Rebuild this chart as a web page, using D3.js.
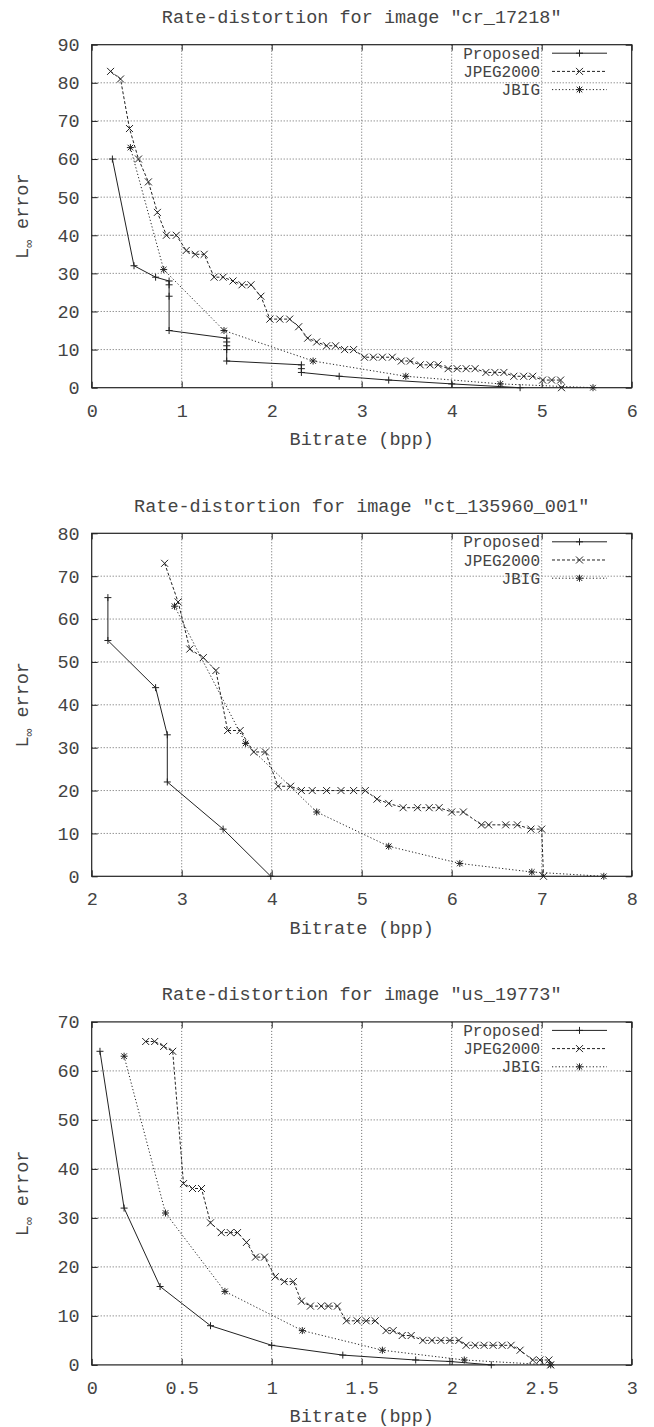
<!DOCTYPE html>
<html>
<head>
<meta charset="utf-8">
<script src="https://cdn.jsdelivr.net/npm/d3@7"></script>
<style>
  body { margin: 0; background: #fff; }
  text { font-family: "Liberation Mono", "DejaVu Sans Mono", monospace; fill: #444; }
</style>
</head>
<body>
<svg id="chart" width="654" height="1427"></svg>
<script>
// ---- data ----
const titles = [
  'Rate-distortion for image "cr_17218"',
  'Rate-distortion for image "ct_135960_001"',
  'Rate-distortion for image "us_19773"'
];
const seriesNames = ["Proposed", "JPEG2000", "JBIG"];

const xTicksCr = [0, 1, 2, 3, 4, 5, 6];
const yTicksCr = [0, 10, 20, 30, 40, 50, 60, 70, 80, 90];
const xTicksCt = [2, 3, 4, 5, 6, 7, 8];
const yTicksCt = [0, 10, 20, 30, 40, 50, 60, 70, 80];
const xTicksUs = [0, 0.5, 1, 1.5, 2, 2.5, 3];
const yTicksUs = [0, 10, 20, 30, 40, 50, 60, 70];

// [bitrate, error]
const crProposed = [[0.23,60],[0.47,32],[0.71,29],[0.86,28],[0.86,27],[0.86,24],[0.86,15],
  [1.5,13],[1.5,12],[1.5,11],[1.5,10],[1.5,7],[2.33,6],[2.33,5],[2.33,4],[2.75,3],[3.3,2],[4.0,1],[4.76,0]];
const crJpeg = [[0.21,83],[0.32,81],[0.42,68],[0.52,60],[0.63,54],[0.73,46],[0.83,40],[0.94,40],
  [1.05,36],[1.15,35],[1.25,35],[1.36,29],[1.46,29],[1.57,28],[1.67,27],[1.77,27],[1.88,24],
  [1.98,18],[2.09,18],[2.20,18],[2.30,16],[2.40,13],[2.50,12],[2.61,11],[2.71,11],[2.81,10],
  [2.91,10],[3.03,8],[3.13,8],[3.23,8],[3.34,8],[3.44,7],[3.54,7],[3.65,6],[3.76,6],[3.85,6],
  [3.96,5],[4.06,5],[4.16,5],[4.26,5],[4.38,4],[4.48,4],[4.58,4],[4.69,3],[4.80,3],[4.90,3],
  [5.01,2],[5.11,2],[5.21,2],[5.22,0]];
const crJbig = [[0.43,63],[0.80,31],[1.47,15],[2.46,7],[3.49,3],[4.54,1],[5.57,0]];

const ctProposed = [[2.18,65],[2.18,55],[2.71,44],[2.84,33],[2.84,22],[3.46,11],[3.99,0]];
const ctJpeg = [[2.81,73],[2.96,64],[3.09,53],[3.24,51],[3.38,48],[3.51,34],[3.65,34],[3.80,29],
  [3.93,29],[4.07,21],[4.21,21],[4.33,20],[4.45,20],[4.61,20],[4.77,20],[4.91,20],[5.04,20],
  [5.17,18],[5.30,17],[5.46,16],[5.62,16],[5.75,16],[5.86,16],[6.0,15],[6.13,15],[6.33,12],
  [6.41,12],[6.60,12],[6.73,12],[6.88,11],[7.0,11],[7.02,0]];
const ctJbig = [[2.92,63],[3.71,31],[4.5,15],[5.30,7],[6.09,3],[6.89,1],[7.69,0]];

const usProposed = [[0.046,64],[0.18,32],[0.38,16],[0.66,8],[1.0,4],[1.395,2],[1.80,1],[1.99,0.7],[2.22,0]];
const usJpeg = [[0.30,66],[0.35,66],[0.40,65],[0.45,64],[0.51,37],[0.56,36],[0.61,36],[0.66,29],
  [0.72,27],[0.77,27],[0.81,27],[0.86,25],[0.91,22],[0.96,22],[1.02,18],[1.07,17],[1.12,17],
  [1.165,13],[1.215,12],[1.275,12],[1.315,12],[1.365,12],[1.415,9],[1.475,9],[1.525,9],[1.575,9],
  [1.635,7],[1.675,7],[1.725,6],[1.775,6],[1.84,5],[1.89,5],[1.94,5],[1.99,5],[2.04,5],
  [2.08,4],[2.13,4],[2.18,4],[2.23,4],[2.28,4],[2.33,4],[2.38,3],[2.45,1],[2.49,1],[2.54,1],[2.55,0]];
const usJbig = [[0.18,63],[0.41,31],[0.74,15],[1.17,7],[1.615,3],[2.07,1],[2.55,0]];

const panels = [
  {title: titles[0], xTicks: xTicksCr, yTicks: yTicksCr, series: [crProposed, crJpeg, crJbig]},
  {title: titles[1], xTicks: xTicksCt, yTicks: yTicksCt, series: [ctProposed, ctJpeg, ctJbig]},
  {title: titles[2], xTicks: xTicksUs, yTicks: yTicksUs, series: [usProposed, usJpeg, usJbig]}
];

// ---- drawing ----
const svg = d3.select("#chart");
const W = 540, H = 343, left = 91.7, top0 = 44.7, step = 488.6;
const ink = "#222";
const fontSize = 18.5, keyFont = 16, keyStep = 18.2;
const styles = [
  {dash: null, marker: "plus"},
  {dash: "3,2", marker: "cross"},
  {dash: "1.2,2.2", marker: "star"}
];

function markerPath(kind, s) {
  let plus = `M${-s},0H${s}M0,${-s}V${s}`,
      cross = `M${-s},${-s}L${s},${s}M${-s},${s}L${s},${-s}`;
  if (kind === "plus") return plus;
  if (kind === "cross") return cross;
  let t = s * 0.8;
  return plus + `M${-t},${-t}L${t},${t}M${-t},${t}L${t},${-t}`;
}

panels.forEach(function(p, i) {
  var g = svg.append("g").attr("transform", `translate(${left},${top0 + i * step})`);

  var x = d3.scaleLinear()
      .domain(d3.extent(p.xTicks))
      .range([0, W]);
  var y = d3.scaleLinear()
      .domain(d3.extent(p.yTicks))
      .range([H, 0]);

  // grid
  g.append("g").selectAll("line")
      .data(p.xTicks.slice(1, -1))
      .enter().append("line")
      .attr("x1", x).attr("x2", x).attr("y1", 0).attr("y2", H)
      .attr("stroke", "#666").attr("stroke-dasharray", "1,2");
  g.append("g").selectAll("line")
      .data(p.yTicks.slice(1, -1))
      .enter().append("line")
      .attr("y1", y).attr("y2", y).attr("x1", 0).attr("x2", W)
      .attr("stroke", "#666").attr("stroke-dasharray", "1,2");

  // axes, ticks pointing inward on all four sides
  var fmt = function(d) { return String(d); };
  var bottom = g.append("g").attr("transform", `translate(0,${H})`)
      .call(d3.axisBottom(x).tickValues(p.xTicks).tickFormat(fmt).tickSizeInner(-6).tickSizeOuter(0).tickPadding(16));
  var leftAx = g.append("g")
      .call(d3.axisLeft(y).tickValues(p.yTicks).tickFormat(fmt).tickSizeInner(-6).tickSizeOuter(0).tickPadding(12));
  var topAx = g.append("g")
      .call(d3.axisTop(x).tickValues(p.xTicks).tickFormat("").tickSizeInner(-6).tickSizeOuter(0));
  var rightAx = g.append("g").attr("transform", `translate(${W},0)`)
      .call(d3.axisRight(y).tickValues(p.yTicks).tickFormat("").tickSizeInner(-6).tickSizeOuter(0));
  [bottom, leftAx, topAx, rightAx].forEach(function(a) {
    a.select(".domain").remove();
    a.selectAll("line").attr("stroke", ink);
    a.selectAll("text").attr("font-size", fontSize).attr("fill", "#444")
        .attr("font-family", '"Liberation Mono", monospace');
  });

  // border
  g.append("rect").attr("width", W).attr("height", H)
      .attr("fill", "none").attr("stroke", ink).attr("stroke-width", 1.2);

  // series
  var line = d3.line().x(function(d) { return x(d[0]); }).y(function(d) { return y(d[1]); });
  p.series.forEach(function(data, k) {
    g.append("path")
        .datum(data)
        .attr("d", line)
        .attr("fill", "none")
        .attr("stroke", ink)
        .attr("stroke-width", 1)
        .attr("stroke-dasharray", styles[k].dash);
    g.append("g").selectAll("path")
        .data(data)
        .enter().append("path")
        .attr("transform", function(d) { return `translate(${x(d[0])},${y(d[1])})`; })
        .attr("d", markerPath(styles[k].marker, 3.5))
        .attr("fill", "none")
        .attr("stroke", ink)
        .attr("stroke-width", 1);
  });

  // legend (gnuplot key, top right, no box)
  var key = g.append("g").attr("transform", `translate(${W},0)`);
  seriesNames.forEach(function(name, k) {
    var ry = 8.5 + k * keyStep;
    key.append("text")
        .attr("x", -91.7).attr("y", ry)
        .attr("dy", "0.35em")
        .attr("text-anchor", "end")
        .attr("font-size", keyFont)
        .text(name);
    key.append("line")
        .attr("x1", -79.7).attr("x2", -24.7).attr("y1", ry).attr("y2", ry)
        .attr("stroke", ink).attr("stroke-dasharray", styles[k].dash);
    key.append("path")
        .attr("transform", `translate(-52.2,${ry})`)
        .attr("d", markerPath(styles[k].marker, 3.5))
        .attr("fill", "none").attr("stroke", ink);
  });

  // titles
  g.append("text")
      .attr("x", W / 2).attr("y", -21.8)
      .attr("text-anchor", "middle")
      .attr("font-size", fontSize)
      .text(p.title);
  g.append("text")
      .attr("x", W / 2).attr("y", H + 57.5)
      .attr("text-anchor", "middle")
      .attr("font-size", fontSize)
      .text("Bitrate (bpp)");
  var yl = g.append("text")
      .attr("transform", `translate(${22 - left + 6},${H / 2}) rotate(-90)`)
      .attr("text-anchor", "middle")
      .attr("font-size", fontSize);
  yl.append("tspan").text("L");
  yl.append("tspan").attr("dy", 5).attr("font-size", 13).text("\u221e");
  yl.append("tspan").attr("dy", -5).text(" error");
});
</script>
</body>
</html>
